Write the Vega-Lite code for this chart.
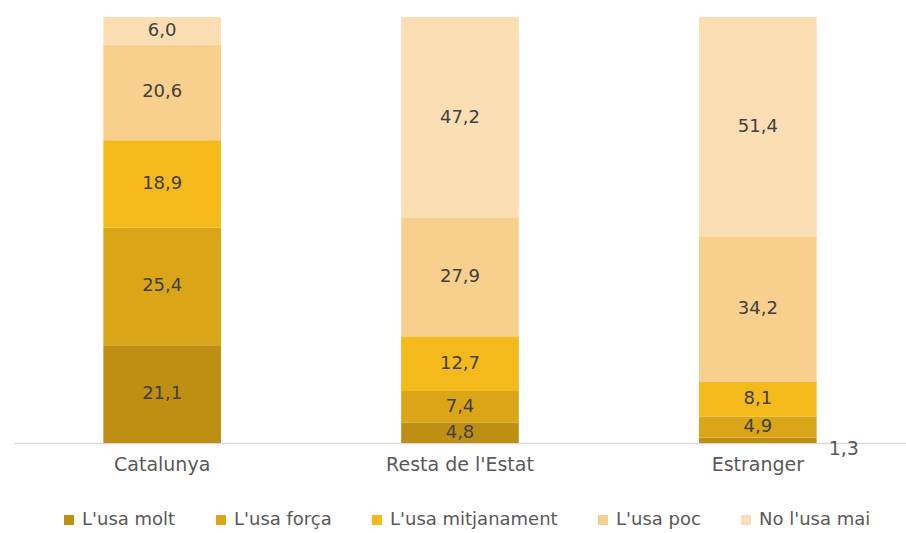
{
  "$schema": "https://vega.github.io/schema/vega-lite/v6.json",
  "autosize": "none",
  "width": 892,
  "height": 426,
  "padding": {"left": 14, "top": 17, "right": 0, "bottom": 90},
  "background": "white",
  "data": {
    "values": [
      {"region": "Catalunya", "category": "L'usa molt", "order": 1, "value": 21.1},
      {"region": "Catalunya", "category": "L'usa força", "order": 2, "value": 25.4},
      {"region": "Catalunya", "category": "L'usa mitjanament", "order": 3, "value": 18.9},
      {"region": "Catalunya", "category": "L'usa poc", "order": 4, "value": 20.6},
      {"region": "Catalunya", "category": "No l'usa mai", "order": 5, "value": 6.0},
      {"region": "Resta de l'Estat", "category": "L'usa molt", "order": 1, "value": 4.8},
      {"region": "Resta de l'Estat", "category": "L'usa força", "order": 2, "value": 7.4},
      {"region": "Resta de l'Estat", "category": "L'usa mitjanament", "order": 3, "value": 12.7},
      {"region": "Resta de l'Estat", "category": "L'usa poc", "order": 4, "value": 27.9},
      {"region": "Resta de l'Estat", "category": "No l'usa mai", "order": 5, "value": 47.2},
      {"region": "Estranger", "category": "L'usa molt", "order": 1, "value": 1.3},
      {"region": "Estranger", "category": "L'usa força", "order": 2, "value": 4.9},
      {"region": "Estranger", "category": "L'usa mitjanament", "order": 3, "value": 8.1},
      {"region": "Estranger", "category": "L'usa poc", "order": 4, "value": 34.2},
      {"region": "Estranger", "category": "No l'usa mai", "order": 5, "value": 51.4}
    ]
  },
  "transform": [
    {"stack": "value", "groupby": ["region"], "sort": [{"field": "order"}], "as": ["v0", "v1"], "offset": "normalize"},
    {"calculate": "(datum.v0 + datum.v1) / 2", "as": "mid"}
  ],
  "encoding": {
    "x": {
      "field": "region", "type": "nominal", "sort": ["Catalunya", "Resta de l'Estat", "Estranger"],
      "scale": {"paddingInner": 0.605, "paddingOuter": 0.3},
      "axis": {"title": null, "labelAngle": 0, "ticks": false, "domainColor": "#d9d9d9", "domainWidth": 1.5, "labelFont": "DejaVu Sans", "labelFontSize": 19, "labelColor": "#595959", "labelPadding": 12}
    }
  },
  "layer": [
    {
      "mark": {"type": "bar"},
      "encoding": {
        "y": {"field": "v0", "type": "quantitative", "scale": {"domain": [0, 1]}, "axis": null},
        "y2": {"field": "v1"},
        "color": {
          "field": "category", "type": "nominal",
          "sort": ["L'usa molt", "L'usa força", "L'usa mitjanament", "L'usa poc", "No l'usa mai"],
          "scale": {
            "domain": ["L'usa molt", "L'usa força", "L'usa mitjanament", "L'usa poc", "No l'usa mai"],
            "range": ["#bf8f14", "#daa517", "#f4b91b", "#f9cf8d", "#fcdeb5"]
          },
          "legend": {
            "title": null, "orient": "none", "direction": "horizontal", "legendX": 46, "legendY": 494,
            "symbolType": "square", "symbolSize": 100, "symbolStrokeWidth": 0, "symbolOpacity": 1,
            "labelFont": "DejaVu Sans", "labelFontSize": 18, "labelColor": "#595959", "labelLimit": 400,
            "labelOffset": 4, "columnPadding": 36
          }
        }
      }
    },
    {
      "transform": [{"filter": "datum.value >= 2"}],
      "mark": {"type": "text", "font": "DejaVu Sans", "fontSize": 18, "color": "#404040", "baseline": "middle"},
      "encoding": {
        "y": {"field": "mid", "type": "quantitative"},
        "text": {"field": "value", "type": "quantitative", "format": ".1f"}
      }
    },
    {
      "transform": [{"filter": "datum.value < 2"}],
      "mark": {"type": "text", "font": "DejaVu Sans", "fontSize": 19, "color": "#595959", "baseline": "middle", "dx": 86, "dy": 9},
      "encoding": {
        "y": {"field": "mid", "type": "quantitative"},
        "text": {"field": "value", "type": "quantitative", "format": ".1f"}
      }
    }
  ],
  "config": {
    "view": {"stroke": null},
    "locale": {"number": {"decimal": ",", "thousands": ".", "grouping": [3], "currency": ["", " €"]}}
  }
}
